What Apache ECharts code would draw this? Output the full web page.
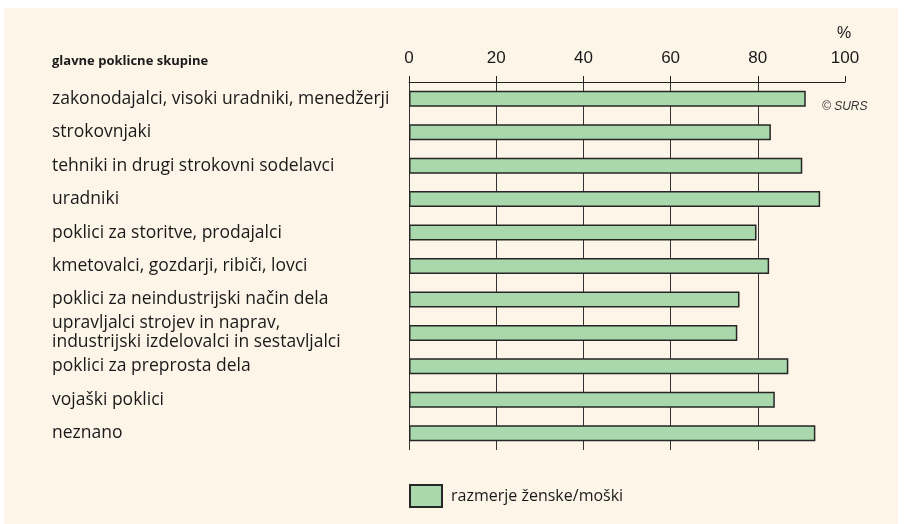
<!DOCTYPE html>
<html><head><meta charset="utf-8">
<script src="https://cdn.jsdelivr.net/npm/echarts@6/dist/echarts.min.js"></script>
<style>html,body{margin:0;padding:0;background:#fff}#c{width:904px;height:524px}</style>
</head><body><div id="c"></div>
<script>
const categories = [
  "zakonodajalci, visoki uradniki, menedžerji",
  "strokovnjaki",
  "tehniki in drugi strokovni sodelavci",
  "uradniki",
  "poklici za storitve, prodajalci",
  "kmetovalci, gozdarji, ribiči, lovci",
  "poklici za neindustrijski način dela",
  "upravljalci strojev in naprav,\nindustrijski izdelovalci in sestavljalci",
  "poklici za preprosta dela",
  "vojaški poklici",
  "neznano"
];
const values = [91.0, 83.0, 90.2, 94.3, 79.7, 82.6, 75.8, 75.3, 87.0, 83.9, 93.2];
const seriesName = "razmerje ženske/moški";
const axisTicks = [0, 20, 40, 60, 80, 100];

const chart = echarts.init(document.getElementById('c'), null, {renderer: 'canvas'});
const labelFont = "'Open Sans', 'Noto Sans', sans-serif";
chart.setOption({
  backgroundColor: '#ffffff',
  animation: false,
  graphic: [
    {type: 'rect', z: -100, shape: {x: 4, y: 8, width: 894, height: 516}, style: {fill: '#fdf5e8'}},
    {type: 'text', left: 52, top: 55, style: {text: 'glavne poklicne skupine', font: "bold 13px 'Open Sans', sans-serif", fill: '#1a1a1a'}},
    {type: 'text', left: 837, top: 26, style: {text: '%', font: "16px 'Liberation Sans', Arial, sans-serif", fill: '#1a1a1a'}},
    {type: 'text', left: 822, top: 101, style: {text: '© SURS', font: "italic 12px 'Liberation Sans', Arial, sans-serif", fill: '#333'}}
  ],
  legend: {
    left: 409, top: 484, padding: 0,
    itemWidth: 32, itemHeight: 22, itemGap: 10,
    textStyle: {fontFamily: labelFont, fontSize: 16, color: '#1a1a1a', padding: [0, 0, 0, 4]},
    data: [{name: seriesName, icon: 'rect'}]
  },
  grid: {left: 409, top: 82, width: 436, height: 368, containLabel: false},
  xAxis: {
    type: 'value', position: 'top', min: axisTicks[0], max: axisTicks[axisTicks.length - 1], interval: 20,
    axisLine: {show: true, lineStyle: {color: '#222', width: 1}},
    axisTick: {show: true, inside: false, length: 6, lineStyle: {color: '#222'}},
    axisLabel: {fontFamily: "'Liberation Sans', Arial, sans-serif", fontSize: 17, color: '#1a1a1a', margin: 15},
    splitLine: {show: true, showMaxLine: false, showMinLine: true, lineStyle: {color: '#333', width: 1}}
  },
  yAxis: {
    type: 'category', inverse: true, data: categories,
    axisLine: {show: false}, axisTick: {show: false},
    axisLabel: {align: 'left', margin: 357, fontFamily: labelFont, fontSize: 17.5, color: '#1a1a1a', lineHeight: 19}
  },
  series: [{
    name: seriesName, type: 'bar', data: values, barWidth: 16,
    itemStyle: {color: '#a8d8ab', borderColor: '#262626', borderWidth: 1.5}
  }]
});
</script></body></html>
